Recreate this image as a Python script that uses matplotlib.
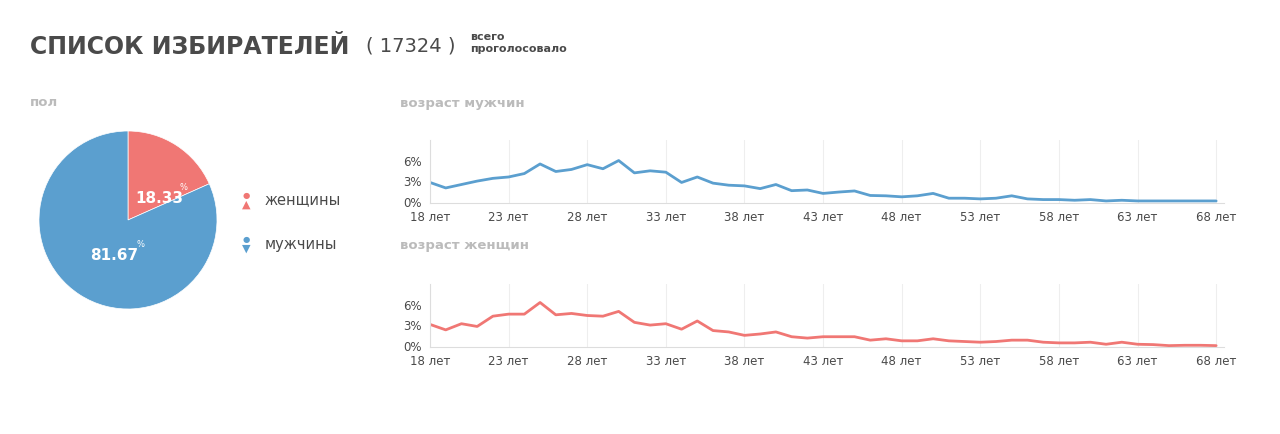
import matplotlib
matplotlib.use("Agg")
import matplotlib.pyplot as plt
import numpy as np

plt.rcParams['font.family'] = ['DejaVu Sans']

# data
ages = list(range(18, 69))
male = [2.8, 2.0, 2.5, 3.0, 3.4, 3.6, 4.1, 5.5, 4.4, 4.7, 5.4, 4.8, 6.0, 4.2, 4.5, 4.3,
        2.8, 3.6, 2.7, 2.4, 2.3, 1.9, 2.5, 1.6, 1.7, 1.2,
        1.4, 1.56, 0.9, 0.85, 0.7, 0.85, 1.2, 0.5, 0.5, 0.4, 0.5, 0.85, 0.4, 0.3, 0.3,
        0.2, 0.3, 0.1, 0.2, 0.1, 0.1, 0.1, 0.1, 0.1, 0.1]
female = [3.1, 2.3, 3.2, 2.8, 4.3, 4.6, 4.6, 6.3, 4.5, 4.7, 4.4, 4.3, 5.0, 3.4, 3.0, 3.2,
          2.4, 3.6, 2.2, 2.0, 1.5, 1.7, 2.0, 1.3, 1.1, 1.3,
          1.3, 1.3, 0.8, 1.0, 0.7, 0.7, 1.0, 0.7, 0.6, 0.5, 0.6, 0.8, 0.8, 0.5, 0.4,
          0.4, 0.5, 0.2, 0.5, 0.2, 0.15, 0.0, 0.05, 0.05, 0.0]
gender_labels = ['женщины', 'мужчины']
gender_share = [18.33, 81.67]
tick_ages = list(range(18, 69, 5))
total = 17324

RED = '#f07774'
BLUE = '#5b9fcf'
DARK = '#4a4a4a'
LIGHT = '#bbbbbb'

fig = plt.figure(figsize=(12.8, 4.34), dpi=100)

fig.text(30/1280, 1-47/434, 'СПИСОК ИЗБИРАТЕЛЕЙ', fontsize=17, fontweight='heavy',
         color=DARK, va='center')
fig.text(366/1280, 1-46/434, '( %d )' % total, fontsize=14, color=DARK, va='center')
fig.text(470/1280, 1-37/434, 'всего', fontsize=8, fontweight='bold', color=DARK, va='center')
fig.text(470/1280, 1-49/434, 'проголосовало', fontsize=8, fontweight='bold', color=DARK, va='center')
fig.text(30/1280, 1-103/434, 'пол', fontsize=9.5, fontweight='bold', color=LIGHT, va='center')
fig.text(400/1280, 1-103/434, 'возраст мужчин', fontsize=9.5, fontweight='bold', color=LIGHT, va='center')
fig.text(400/1280, 1-246/434, 'возраст женщин', fontsize=9.5, fontweight='bold', color=LIGHT, va='center')

# pie
pax = fig.add_axes([39/1280, 1-309/434, 178/1280, 178/434])
pax.pie(gender_share, colors=[RED, BLUE], startangle=90, counterclock=False,
        wedgeprops=dict(linewidth=0.5, edgecolor='white'))
pax.set_xlim(-1, 1)
pax.set_ylim(-1, 1)
pax.text(0.08, 0.24, '%.2f' % gender_share[0], color='white', fontsize=11, fontweight='bold', va='center')
pax.text(0.58, 0.34, '%', color='white', fontsize=6)
pax.text(-0.42, -0.4, '%.2f' % gender_share[1], color='white', fontsize=11, fontweight='bold', va='center')
pax.text(0.1, -0.3, '%', color='white', fontsize=6)

for i, (lab, col) in enumerate(zip(gender_labels, [RED, BLUE])):
    y = 1 - (200 + 44*i)/434
    fig.text(246/1280, y, '●', color=col, fontsize=6, ha='center', va='bottom')
    fig.text(246/1280, y, '▲' if i == 0 else '▼', color=col, fontsize=8, ha='center', va='top')
    fig.text(265/1280, y, lab, color=DARK, fontsize=10.5, va='center')


def age_axes(rect, vals, col):
    ax = fig.add_axes(rect)
    ax.plot(ages, vals, color=col, lw=2, solid_joinstyle='round', solid_capstyle='round')
    ax.set_xlim(18, 68.5)
    ax.set_ylim(-0.2, 9)
    ax.set_yticks([0, 3, 6])
    ax.set_yticklabels(['0%', '3%', '6%'])
    ax.set_xticks(tick_ages)
    ax.set_xticklabels(['%d лет' % a for a in tick_ages])
    ax.grid(axis='x', color='#eeeeee', lw=0.8)
    for s in ['top', 'right']:
        ax.spines[s].set_visible(False)
    for s in ['left', 'bottom']:
        ax.spines[s].set_color('#dddddd')
    ax.tick_params(length=0, labelsize=8.5, labelcolor=DARK, pad=6)
    return ax


age_axes([430/1280, 1-203/434, 794/1280, 63/434], male, BLUE)
age_axes([430/1280, 1-347/434, 794/1280, 63/434], female, RED)

fig.savefig('out.png', dpi=100, facecolor='white')
